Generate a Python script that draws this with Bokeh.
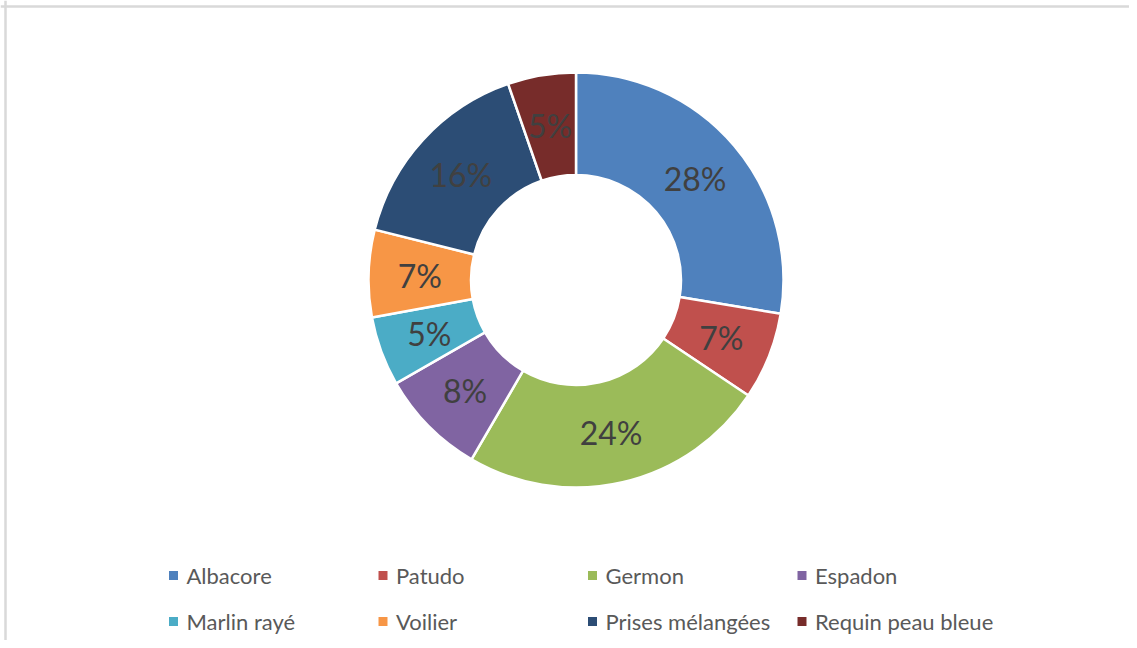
import numpy as np
from bokeh.plotting import figure
from bokeh.models import Range1d, ColumnDataSource, Span
from bokeh.core.properties import value
from bokeh.embed import file_html
from bokeh.resources import INLINE

categories = ["Albacore", "Patudo", "Germon", "Espadon", "Marlin rayé", "Voilier", "Prises mélangées", "Requin peau bleue"]
shares = [27.6, 6.8, 24.0, 8.3, 5.4, 6.8, 15.8, 5.3]
colors = ["#4F81BD", "#C0504D", "#9BBB59", "#8064A2", "#4BACC6", "#F79646", "#2C4D75", "#772C2A"]

W, H = 1129, 640
# centre of donut in figure pixels (from left / from top)
cx_px, cy_px = 575.5, 279.5
R_OUT, R_IN = 207.5, 105.0

p = figure(width=W, height=H, output_backend="svg", toolbar_location=None,
           x_range=Range1d(-cx_px, W - cx_px), y_range=Range1d(-(H - cy_px), cy_px),
           min_border=0)
p.axis.visible = False
p.grid.visible = False
p.outline_line_color = None
p.background_fill_color = "white"
p.border_fill_color = "white"

vals = np.array(shares, dtype=float)
frac = vals / vals.sum()
cum = np.concatenate([[0], np.cumsum(frac)])
# clockwise from 12 o'clock
start = np.pi / 2 - cum[1:] * 2 * np.pi
end = np.pi / 2 - cum[:-1] * 2 * np.pi
mid = (start + end) / 2
rl = (R_OUT + R_IN) / 2
src = ColumnDataSource(dict(start=start, end=end, color=colors, cat=categories,
                            lx=rl * np.cos(mid), ly=rl * np.sin(mid),
                            lab=[f"{round(v)}%" for v in frac * 100]))
p.annular_wedge(x=0, y=0, inner_radius=R_IN, outer_radius=R_OUT,
                start_angle="start", end_angle="end", direction="anticlock",
                fill_color="color", line_color="white", line_width=2.5, source=src)
p.text(x="lx", y="ly", text="lab", source=src, text_align="center", text_baseline="middle",
       text_font=value("Lato"), text_font_size="32px", text_color="#404040")

# legend (4 columns x 2 rows)
col_x0, col_dx = 173, 209.5
row_y = [575, 621]
lx, ly, tx = [], [], []
for i, c in enumerate(categories):
    r, k = divmod(i, 4)
    px = col_x0 + k * col_dx
    py = row_y[r]
    lx.append(px - cx_px)
    ly.append(cy_px - py)
    tx.append(px - cx_px + 13)
lsrc = ColumnDataSource(dict(x=lx, y=ly, tx=tx, color=colors, cat=categories))
p.scatter(x="x", y="y", marker="square", size=9, fill_color="color", line_color=None, source=lsrc)
p.text(x="tx", y="y", text="cat", source=lsrc, text_align="left", text_baseline="middle",
       text_font=value("Lato"), text_font_size="22px", text_color="#595959")

# chart-area border (top and left edges visible in reference)
p.add_layout(Span(location=cy_px - 6, dimension="width", line_color="#d9d9d9", line_width=2.5))
p.add_layout(Span(location=-cx_px + 5, dimension="height", line_color="#d9d9d9", line_width=2.5))

open("out.html", "w").write(file_html(p, INLINE))
